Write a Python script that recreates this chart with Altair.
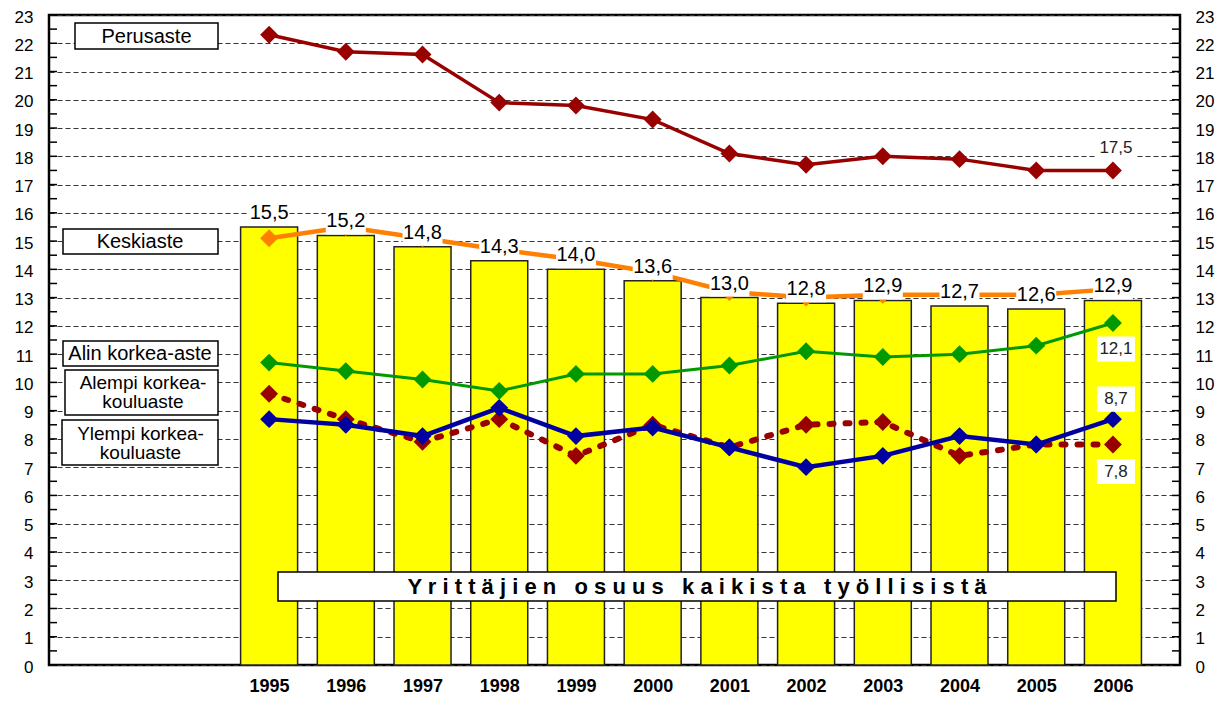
import altair as alt
import pandas as pd

# ---------------- data ----------------
years = list(range(1995, 2007))
total = [15.5, 15.2, 14.8, 14.3, 14.0, 13.6, 13.0, 12.8, 12.9, 12.7, 12.6, 12.9]
perusaste = [22.3, 21.7, 21.6, 19.9, 19.8, 19.3, 18.1, 17.7, 18.0, 17.9, 17.5, 17.5]
keskiaste = [15.1, 15.5, 15.1, 14.7, 14.35, 13.9, 13.2, 13.0, 13.1, 13.1, 13.1, 13.3]
alin = [10.7, 10.4, 10.1, 9.7, 10.3, 10.3, 10.6, 11.1, 10.9, 11.0, 11.3, 12.1]
alempi = [9.6, 8.7, 7.9, 8.7, 7.4, 8.5, 7.7, 8.5, 8.6, 7.4, 7.8, 7.8]
ylempi = [8.7, 8.5, 8.1, 9.1, 8.1, 8.4, 7.7, 7.0, 7.4, 8.1, 7.8, 8.7]
y_labels = list(range(0, 24))
tick_marks = [i / 2 for i in range(0, 47)]
series_names = ["Perusaste", "Keskiaste", "Alin korkea-aste",
                "Alempi korkea-\nkouluaste", "Ylempi korkea-\nkouluaste"]
NB = "\u00a0"
title_text = (f"Y r i t t ä j i e n {NB} o s u u s {NB} k a i k i s t a {NB} "
              f"t y ö l l i s i s t ä")

def fmt(v):
    return f"{v:.1f}".replace(".", ",")

# ---------------- layout ----------------
W, H = 1131, 650
SANS = "Liberation Sans, Arial, sans-serif"
NARROW = "Liberation Sans Narrow, Arial Narrow, Liberation Sans, sans-serif"

xscale = alt.Scale(domain=[1992.196, 2006.809], nice=False, zero=False)
yscale = alt.Scale(domain=[0, 23], nice=False, zero=True)

xaxis = alt.Axis(values=years, format="d", title=None, ticks=False, domain=False,
                 grid=False, labelFont=SANS, labelFontSize=18, labelFontWeight="bold",
                 labelColor="black", labelPadding=12)
left_axis = alt.Axis(orient="left", values=y_labels, title=None, ticks=False, domain=False,
                     grid=True, gridDash=[5, 3], gridColor="#333333", gridWidth=1,
                     labelFont=SANS, labelFontSize=17, labelColor="black", labelPadding=16,
                     labelOffset=2)
right_axis = alt.Axis(orient="right", values=y_labels, title=None, ticks=False, domain=False,
                      grid=False, labelFont=SANS, labelFontSize=17, labelColor="black",
                      labelPadding=15, labelOffset=2)

def X():
    return alt.X("year:Q", scale=xscale, axis=xaxis)

def Y(field="value", axis=None):
    return alt.Y(f"{field}:Q", scale=yscale, axis=axis)

df_bars = pd.DataFrame({"year": years, "total": total,
                        "label": [fmt(v) for v in total]})
df_ticks = pd.DataFrame({"t": tick_marks})

bars = alt.Chart(df_bars).mark_bar(size=57, color="#FFFF00", stroke="#222222",
                                   strokeWidth=1.5).encode(x=X(), y=Y("total", left_axis))

ticks_left = alt.Chart(df_ticks).mark_rule(color="black", strokeWidth=1.5).encode(
    y=Y("t"), x=alt.value(0), x2=alt.value(8))
ticks_right = alt.Chart(df_ticks).mark_rule(color="black", strokeWidth=1.5).encode(
    y=Y("t", right_axis), x=alt.value(W - 8), x2=alt.value(W))

def series(values, color, width, dash=None, cap="butt"):
    df = pd.DataFrame({"year": years, "value": values})
    kw = dict(color=color, strokeWidth=width, strokeCap=cap)
    if dash:
        kw["strokeDash"] = dash
    line = alt.Chart(df).mark_line(**kw).encode(x=X(), y=Y())
    pts = alt.Chart(df).mark_point(shape="diamond", filled=True, size=320, color=color,
                                   opacity=1).encode(x=X(), y=Y())
    return [line, pts]

layers = [bars, ticks_left, ticks_right]
layers += series(keskiaste, "#FF8000", 4.5)
layers += series(perusaste, "#990000", 3.5)
layers += series(alin, "#009900", 3)
layers += series(alempi, "#990000", 6, dash=[4, 12], cap="round")
layers += series(ylempi, "#0000A0", 4.5)

# bar value labels with white boxes
BOX = "M-1,-0.65L1,-0.65L1,0.65L-1,0.65Z"
bar_box = alt.Chart(df_bars).mark_point(shape=BOX, size=1600, filled=True, fill="white",
                                        opacity=1, strokeWidth=0, yOffset=-14).encode(
    x=X(), y=Y("total"))
bar_txt = alt.Chart(df_bars).mark_text(font=NARROW, fontSize=20, color="black",
                                       baseline="middle", align="center", yOffset=-14).encode(
    x=X(), y=Y("total"), text="label:N")
layers += [bar_box, bar_txt]

# end-of-line labels (2006 values)
def end_label(value, dy):
    df = pd.DataFrame({"year": [years[-1]], "value": [value], "label": [fmt(value)]})
    b = alt.Chart(df).mark_point(shape="M-1,-0.66L1,-0.66L1,0.66L-1,0.66Z", size=1444,
                                 filled=True, fill="white", opacity=1, strokeWidth=0,
                                 yOffset=dy, xOffset=3).encode(x=X(), y=Y())
    t = alt.Chart(df).mark_text(font=NARROW, fontSize=17, color="#222222", baseline="middle",
                                align="center", yOffset=dy, xOffset=3).encode(
        x=X(), y=Y(), text="label:N")
    return [b, t]

layers += end_label(perusaste[-1], -22)
layers += end_label(alin[-1], 26)
layers += end_label(ylempi[-1], -20)
layers += end_label(alempi[-1], 27)

# legend-like name boxes on the left (pixel layout)
def name_box(text, x1, x2, y1, y2, tx, ty, size=20, weight="normal", lh=20):
    df = pd.DataFrame({"label": [text]})
    r = alt.Chart(df).mark_rect(fill="white", stroke="black", strokeWidth=1.5).encode(
        x=alt.value(x1), x2=alt.value(x2), y=alt.value(y1), y2=alt.value(y2))
    t = alt.Chart(df).mark_text(font=SANS, fontSize=size, fontWeight=weight, color="black",
                                align="center", baseline="middle", lineBreak="\n",
                                lineHeight=lh).encode(
        x=alt.value(tx), y=alt.value(ty), text="label:N")
    return [r, t]

layers += name_box(series_names[0], 26, 169, 8, 34, 97.5, 21.5)
layers += name_box(series_names[1], 14, 169, 214, 239, 91, 226.5)
layers += name_box(series_names[2], 14, 169, 326, 351, 91, 338.5)
layers += name_box(series_names[3], 16, 169, 355, 400, 94, 367.5, size=19, lh=19.5)
layers += name_box(series_names[4], 13, 169, 405, 450, 91.5, 418.5, size=19, lh=19.5)
layers += name_box(title_text, 229, 1067, 557, 586, 648, 572, size=22, weight="bold")

chart = alt.layer(*layers).resolve_scale(x="shared", y="shared").resolve_axis(
    y="independent").properties(
    width=W, height=H,
    autosize=alt.AutoSizeParams(type="none"),
    padding={"left": 41, "top": 7, "right": 38, "bottom": 31},
    background="white",
).configure_view(stroke="black", strokeWidth=2.5)

chart.save("out.html", embed_options={"renderer": "svg", "actions": False})
